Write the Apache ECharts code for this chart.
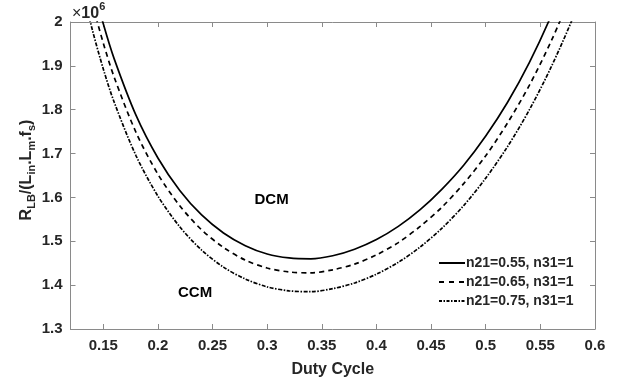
<!DOCTYPE html>
<html>
<head>
<meta charset="utf-8">
<script src="https://cdn.jsdelivr.net/npm/echarts@6/dist/echarts.min.js"></script>
<style>
  html, body { margin: 0; padding: 0; background: #ffffff; }
  #chart { width: 633px; height: 385px; }
</style>
</head>
<body>
<div id="chart"></div>
<script>
// Duty cycle values (x)
const duty = [0.13, 0.14, 0.15, 0.16, 0.18, 0.20, 0.22, 0.24, 0.26, 0.28, 0.30, 0.32, 0.34,
              0.36, 0.38, 0.40, 0.42, 0.44, 0.46, 0.48, 0.50, 0.52, 0.54, 0.56, 0.58, 0.60];
// R_LB/(L_in.L_m.f_s), in units of 10^6
const n055 = [2.198, 2.089, 1.996, 1.916, 1.787, 1.690, 1.616, 1.560, 1.519, 1.490, 1.471, 1.462, 1.460,
              1.467, 1.482, 1.504, 1.534, 1.572, 1.619, 1.674, 1.740, 1.817, 1.908, 2.015, 2.140, 2.285];
const n065 = [2.150, 2.043, 1.952, 1.874, 1.748, 1.653, 1.581, 1.526, 1.486, 1.457, 1.439, 1.430, 1.428,
              1.435, 1.448, 1.469, 1.497, 1.534, 1.578, 1.632, 1.695, 1.770, 1.856, 1.957, 2.075, 2.212];
const n075 = [2.085, 1.982, 1.893, 1.817, 1.695, 1.603, 1.533, 1.480, 1.441, 1.414, 1.396, 1.387, 1.385,
              1.392, 1.405, 1.425, 1.452, 1.487, 1.530, 1.582, 1.644, 1.716, 1.800, 1.898, 2.011, 2.143];
const seriesNames = ['n21=0.55, n31=1', 'n21=0.65, n31=1', 'n21=0.75, n31=1'];
const xTicks = [0.15, 0.2, 0.25, 0.3, 0.35, 0.4, 0.45, 0.5, 0.55, 0.6];
const yTicks = [1.3, 1.4, 1.5, 1.6, 1.7, 1.8, 1.9, 2];
const regionLabels = [
  { text: 'DCM', x: 0.304, y: 1.594 },
  { text: 'CCM', x: 0.234, y: 1.382 }
];

const FONT = '"Liberation Sans", Arial, sans-serif';
const AXIS_COLOR = '#8a8a8a';
const TEXT_COLOR = '#262626';
const DASH = [5, 4];
const DASHDOT = [4, 1.5, 1.5, 1.5];

function pairs(xs, ys) { return xs.map((x, i) => [x, ys[i]]); }

// legend icon path drawing a dash pattern along a 26x2 strip
function dashIcon(pattern, total) {
  if (!pattern) return 'path://M0,0H' + total + 'V2H0Z';
  let x = 0, i = 0, d = '';
  while (x < total) {
    const on = Math.min(pattern[i % pattern.length], total - x);
    d += 'M' + x + ',0H' + (x + on) + 'V2H' + x + 'Z';
    x += pattern[i % pattern.length] + pattern[(i + 1) % pattern.length];
    i += 2;
  }
  // guarantee full bounding width so the icon is not stretched
  return 'path://' + d + 'M' + total + ',0V2';
}

const chart = echarts.init(document.getElementById('chart'), null, { renderer: 'canvas' });

const tickStyle = (vals) => ({ show: true, inside: true, length: 5, lineStyle: { color: AXIS_COLOR }, customValues: vals });
const axisLine = { show: true, lineStyle: { color: AXIS_COLOR, width: 1 } };

const option = {
  animation: false,
  backgroundColor: '#ffffff',
  grid: { left: 70.5, right: 38, top: 22, bottom: 56, containLabel: false },
  legend: {
    orient: 'vertical',
    left: 439,
    top: 256,
    itemWidth: 26,
    itemHeight: 2,
    itemGap: 5,
    padding: 0,
    textStyle: { fontFamily: FONT, fontSize: 14, fontWeight: 'bold', color: TEXT_COLOR, padding: [0, 0, 0, -4] },
    data: [
      { name: seriesNames[0], icon: dashIcon(null, 26) },
      { name: seriesNames[1], icon: dashIcon([5, 5], 26) },
      { name: seriesNames[2], icon: dashIcon([3, 1.5, 1.5, 1.5], 26) }
    ]
  },
  xAxis: [
    {
      type: 'value', min: 0.12, max: 0.6, position: 'bottom',
      name: 'Duty Cycle', nameLocation: 'middle', nameGap: 33,
      nameTextStyle: { fontFamily: FONT, fontSize: 16, fontWeight: 'bold', color: TEXT_COLOR },
      axisLine: axisLine, splitLine: { show: false },
      axisTick: tickStyle(xTicks),
      axisLabel: { show: true, customValues: xTicks, margin: 9, fontFamily: FONT, fontSize: 15, fontWeight: 'bold', color: TEXT_COLOR,
                   formatter: v => String(parseFloat(v.toFixed(2))) }
    },
    {
      type: 'value', min: 0.12, max: 0.6, position: 'top',
      axisLine: axisLine, splitLine: { show: false },
      axisTick: tickStyle(xTicks), axisLabel: { show: false }
    }
  ],
  yAxis: [
    {
      type: 'value', min: 1.3, max: 2, position: 'left',
      axisLine: axisLine, splitLine: { show: false },
      axisTick: tickStyle(yTicks),
      axisLabel: { show: true, customValues: yTicks, margin: 8, fontFamily: FONT, fontSize: 15, fontWeight: 'bold', color: TEXT_COLOR,
                   formatter: v => String(parseFloat(v.toFixed(1))) }
    },
    {
      type: 'value', min: 1.3, max: 2, position: 'right',
      axisLine: axisLine, splitLine: { show: false },
      axisTick: tickStyle(yTicks), axisLabel: { show: false }
    }
  ],
  series: [
    {
      name: seriesNames[0], type: 'line', data: pairs(duty, n055), symbol: 'none', smooth: 0.3, clip: true,
      lineStyle: { color: '#000000', width: 1.7, type: 'solid' }, itemStyle: { color: '#000000' }
    },
    {
      name: seriesNames[1], type: 'line', data: pairs(duty, n065), symbol: 'none', smooth: 0.3, clip: true,
      lineStyle: { color: '#000000', width: 1.7, type: DASH }, itemStyle: { color: '#000000' }
    },
    {
      name: seriesNames[2], type: 'line', data: pairs(duty, n075), symbol: 'none', smooth: 0.3, clip: true,
      lineStyle: { color: '#000000', width: 1.7, type: DASHDOT }, itemStyle: { color: '#000000' }
    }
  ]
};

chart.setOption(option);

const gfx = [];
regionLabels.forEach(l => {
  const p = chart.convertToPixel({ xAxisIndex: 0, yAxisIndex: 0 }, [l.x, l.y]);
  gfx.push({
    type: 'text', x: p[0], y: p[1], silent: true,
    style: { text: l.text, fontFamily: FONT, fontSize: 15, fontWeight: 'bold', fill: '#000000',
             align: 'center', verticalAlign: 'middle' }
  });
});
// x10^6 exponent label
gfx.push({
  type: 'text', x: 72, y: 1, silent: true,
  style: {
    text: '{a|×}{b|10}{c|6}',
    rich: {
      a: { fontFamily: FONT, fontSize: 16, fontWeight: 'normal', fill: TEXT_COLOR, verticalAlign: 'bottom', lineHeight: 21 },
      b: { fontFamily: FONT, fontSize: 16, fontWeight: 'bold', fill: TEXT_COLOR, verticalAlign: 'bottom', lineHeight: 21 },
      c: { fontFamily: FONT, fontSize: 11, fontWeight: 'bold', fill: TEXT_COLOR, verticalAlign: 'top', lineHeight: 21 }
    }
  }
});
// Y axis title with subscripts
gfx.push({
  type: 'text', x: 27, y: 170, rotation: Math.PI / 2, silent: true,
  style: {
    text: '{n|R}{s|LB}{n|/(L}{s|in}{n|.L}{s|m}{n|.f}{s|s}{n|)}',
    align: 'center', verticalAlign: 'middle',
    rich: {
      n: { fontFamily: FONT, fontSize: 16, fontWeight: 'bold', fill: TEXT_COLOR, verticalAlign: 'middle', lineHeight: 20 },
      s: { fontFamily: FONT, fontSize: 11, fontWeight: 'bold', fill: TEXT_COLOR, verticalAlign: 'bottom', lineHeight: 20 }
    }
  }
});
chart.setOption({ graphic: gfx });
</script>
</body>
</html>
